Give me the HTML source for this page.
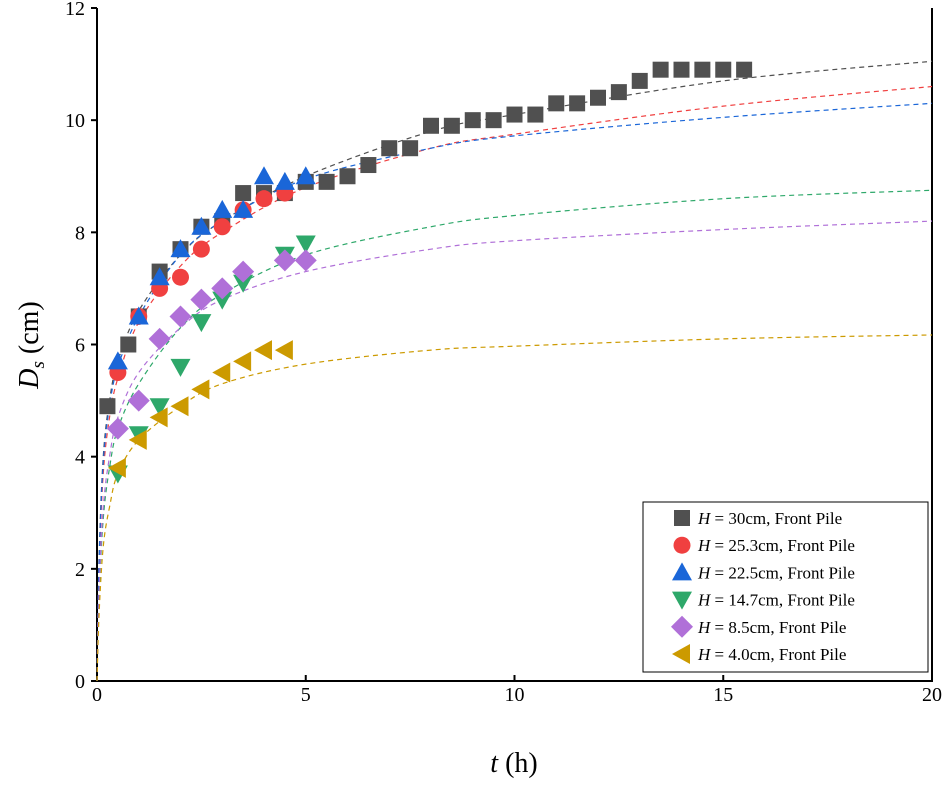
<!DOCTYPE html>
<html><head><meta charset="utf-8"><style>
body{margin:0;background:#fff}
svg text{font-family:"Liberation Serif",serif;fill:#000}
</style></head><body>
<svg id="c" width="945" height="782"></svg>
<script>
const xTicks=[0,5,10,15,20];
const yTicks=[0,2,4,6,8,10,12];
const tH30=[0.25,0.75,1,1.5,2,2.5,3,3.5,4,4.5,5,5.5,6,6.5,7,7.5,8,8.5,9,9.5,10,10.5,11,11.5,12,12.5,13,13.5,14,14.5,15,15.5];
const dH30=[4.9,6.0,6.5,7.3,7.7,8.1,8.2,8.7,8.7,8.7,8.9,8.9,9.0,9.2,9.5,9.5,9.9,9.9,10.0,10.0,10.1,10.1,10.3,10.3,10.4,10.5,10.7,10.9,10.9,10.9,10.9,10.9];
const tH25=[0.5,1,1.5,2,2.5,3,3.5,4,4.5];
const dH25=[5.5,6.5,7.0,7.2,7.7,8.1,8.4,8.6,8.7];
const tH22=[0.5,1,1.5,2,2.5,3,3.5,4,4.5,5];
const dH22=[5.7,6.5,7.2,7.7,8.1,8.4,8.4,9.0,8.9,9.0];
const tH14=[0.5,1,1.5,2,2.5,3,3.5,4.5,5];
const dH14=[3.7,4.4,4.9,5.6,6.4,6.8,7.1,7.6,7.8];
const tH8=[0.5,1,1.5,2,2.5,3,3.5,4.5,5];
const dH8=[4.5,5.0,6.1,6.5,6.8,7.0,7.3,7.5,7.5];
const tH4=[0.5,1,1.5,2,2.5,3,3.5,4,4.5];
const dH4=[3.8,4.3,4.7,4.9,5.2,5.5,5.7,5.9,5.9];
const fitT=[0,0.05,0.15,0.3,0.5,1,2,3,5,8,10,15,20];
const fit30=[0,2.2,4.0,5.0,5.7,6.6,7.6,8.2,9.0,9.8,10.1,10.7,11.05];
const fit25=[0,2.0,3.7,4.7,5.4,6.4,7.4,8.0,8.8,9.5,9.75,10.25,10.6];
const fit22=[0,2.1,3.9,4.9,5.6,6.5,7.6,8.2,8.95,9.5,9.72,10.05,10.3];
const fit14=[0,1.5,2.9,3.8,4.5,5.3,6.3,6.9,7.6,8.1,8.3,8.6,8.75];
const fit8=[0,1.6,3.1,4.0,4.7,5.5,6.3,6.8,7.3,7.7,7.85,8.05,8.2];
const fit4=[0,1.2,2.4,3.1,3.7,4.3,4.9,5.3,5.65,5.9,5.97,6.1,6.17];
const labels=["30cm","25.3cm","22.5cm","14.7cm","8.5cm","4.0cm"];

const NS="http://www.w3.org/2000/svg",svg=document.getElementById('c');
const X0=97,X1=932,Y0=681,Y1=8;
const xs=v=>X0+(X1-X0)*v/20, ys=v=>Y0-(Y0-Y1)*v/12;
function mk(t,a,p){const e=document.createElementNS(NS,t);for(const k in a)e.setAttribute(k,a[k]);(p||svg).appendChild(e);return e;}
let ax=mk('path',{d:`M${X0},${Y1}V${Y0}H${X1}V${Y1}`,fill:'none',stroke:'#000','stroke-width':2});

xTicks.forEach(v=>{const x=xs(v);mk('line',{x1:x,x2:x,y1:Y0,y2:Y0-6,stroke:'#000','stroke-width':2});
 const t=mk('text',{x:x,y:Y0+20,'text-anchor':'middle','font-size':20});t.textContent=v;
 });
yTicks.forEach(v=>{const y=ys(v);mk('line',{x1:X0-6,x2:X0,y1:y,y2:y,stroke:'#000','stroke-width':2});
 const t=mk('text',{x:X0-12,y:y+7,'text-anchor':'end','font-size':20});t.textContent=v;
 });
let xt=mk('text',{x:514,y:772,'text-anchor':'middle','font-size':28});xt.innerHTML='<tspan font-style="italic">t</tspan> (h)';

let yt=mk('text',{x:0,y:0,'text-anchor':'middle','font-size':28,transform:'translate(38,345) rotate(-90)'});
yt.innerHTML='<tspan font-style="italic">D</tspan><tspan font-style="italic" font-size="19" dy="6">s</tspan><tspan dy="-6"> (cm)</tspan>';

const colors=['#505050','#f04040','#1a66d8','#2ea86a','#b070d8','#cc9a00'];
const fits=[fit30,fit25,fit22,fit14,fit8,fit4];
const ts=[tH30,tH25,tH22,tH14,tH8,tH4], ds=[dH30,dH25,dH22,dH14,dH8,dH4];
const shapes=['square','circle','up','down','diamond','left'];
function smooth(pts){let d=`M${pts[0][0]},${pts[0][1]}`;for(let i=0;i<pts.length-1;i++){const p0=pts[Math.max(i-1,0)],p1=pts[i],p2=pts[i+1],p3=pts[Math.min(i+2,pts.length-1)];
 d+=`C${p1[0]+(p2[0]-p0[0])/6},${p1[1]+(p2[1]-p0[1])/6} ${p2[0]-(p3[0]-p1[0])/6},${p2[1]-(p3[1]-p1[1])/6} ${p2[0]},${p2[1]}`;}return d;}
function marker(s,x,y,c,g){let e;
 if(s==='square')e=mk('rect',{x:x-8,y:y-8,width:16,height:16,fill:c},g);
 else if(s==='circle')e=mk('circle',{cx:x,cy:y,r:8.5,fill:c},g);
 else{let p;if(s==='up')p=[[x,y-10],[x+10,y+8],[x-10,y+8]];else if(s==='down')p=[[x,y+10],[x+10,y-8],[x-10,y-8]];
  else if(s==='diamond')p=[[x,y-11],[x+11,y],[x,y+11],[x-11,y]];else p=[[x-10,y],[x+8,y-10],[x+8,y+10]];
  e=mk('polygon',{points:p.map(q=>q.join(',')).join(' '),fill:c},g);}
 return e;}
fits.forEach((f,i)=>{const p=mk('path',{d:smooth(fitT.map((t,j)=>[xs(t),ys(f[j])])),fill:'none',stroke:colors[i],'stroke-width':1.2,'stroke-dasharray':'5,4'});
 });
ts.forEach((tt,i)=>{const g=mk('g',{});
 tt.forEach((t,j)=>{const m=marker(shapes[i],xs(t),ys(ds[i][j]),colors[i],g);});});
const lg=mk('g',{});
mk('rect',{x:643,y:502,width:285,height:170,fill:'#fff',stroke:'#000','stroke-width':1},lg);
labels.forEach((l,i)=>{const y=518+i*27.2;marker(shapes[i],682,y,colors[i],lg);
 const t=mk('text',{x:698,y:y+6,'font-size':17},lg);t.innerHTML=`<tspan font-style="italic">H</tspan> = ${l}, Front Pile`;
 });
</script></body></html>
